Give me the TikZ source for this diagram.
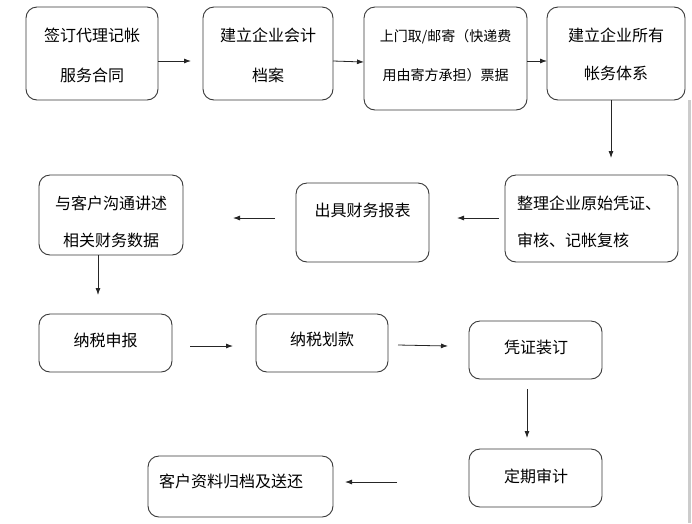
\documentclass[tikz,border=0pt]{standalone}
\usepackage{fontspec}
\setmainfont{Noto Sans CJK SC}
\usetikzlibrary{arrows.meta}
\tikzset{
  box/.style={draw=black!78, line width=0.9pt, rounded corners=11pt, inner sep=0pt, outer sep=0pt, anchor=north west},
  txt/.style={inner sep=0pt, font=\fontsize{16}{16}\selectfont},
  smalltxt/.style={inner sep=0pt, font=\fontsize{14}{14}\selectfont},
  arr/.style={draw=black!85, line width=0.8pt, -{Latex[length=7pt,width=5pt]}}
}
\begin{document}
\begin{tikzpicture}[x=1pt,y=-1pt]
\useasboundingbox (0,0) rectangle (692,523);
\fill[white] (0,0) rectangle (692,523);
\fill[black!20] (688,100) rectangle (690.5,523);

% row 1
\node[box, minimum width=132pt, minimum height=93pt] (b1) at (26,7) {};
\node[txt] (b1a) at (92,35) {签订代理记帐};
\node[txt] (b1b) at (92,75) {服务合同};

\node[box, minimum width=130pt, minimum height=93pt] (b2) at (203,7) {};
\node[txt] (b2a) at (268,35) {建立企业会计};
\node[txt] (b2b) at (268,75) {档案};

\node[box, minimum width=163pt, minimum height=103pt] (b3) at (364,7) {};
\node[smalltxt] (b3a) at (445.5,37) {上门取/邮寄（快递费};
\node[smalltxt] (b3b) at (445.5,75) {用由寄方承担）票据};

\node[box, minimum width=138pt, minimum height=93pt] (b4) at (547,7) {};
\node[txt] (b4a) at (616,35) {建立企业所有};
\node[txt] (b4b) at (616,73) {帐务体系};

% row 2
\node[box, minimum width=144pt, minimum height=80pt] (bA) at (39,175) {};
\node[txt] (bAa) at (111,203) {与客户沟通讲述};
\node[txt] (bAb) at (111,240) {相关财务数据};

\node[box, minimum width=133pt, minimum height=79pt] (bB) at (296,183) {};
\node[txt] (bBa) at (362.5,210) {出具财务报表};

\node[box, minimum width=173pt, minimum height=87pt] (bC) at (505,175) {};
\node[txt, anchor=west] (bCa) at (517,203) {整理企业原始凭证、};
\node[txt, anchor=west] (bCb) at (517,240) {审核、记帐复核};

% row 3
\node[box, minimum width=133pt, minimum height=58pt] (bD) at (39,314) {};
\node[txt] (bDa) at (105.5,340) {纳税申报};

\node[box, minimum width=132pt, minimum height=58pt] (bE) at (256,314) {};
\node[txt] (bEa) at (322,339) {纳税划款};

\node[box, minimum width=133pt, minimum height=58pt] (bF) at (469,321) {};
\node[txt] (bFa) at (536,347) {凭证装订};

% row 4
\node[box, minimum width=133pt, minimum height=58pt] (bG) at (469,449) {};
\node[txt] (bGa) at (536,476) {定期审计};

\node[box, minimum width=185pt, minimum height=61pt] (bH) at (148,456) {};
\node[txt, anchor=west] (bHa) at (159,481) {客户资料归档及送还};

% connector end points
\coordinate (p1s) at (158,61);  \coordinate (p1e) at (191,61);
\coordinate (p2s) at (333,61);  \coordinate (p2e) at (364,62);
\coordinate (p3s) at (527,61);  \coordinate (p3e) at (547,61);
\coordinate (p4s) at (611,100); \coordinate (p4e) at (611,158);
\coordinate (p5s) at (499,218); \coordinate (p5e) at (457,218);
\coordinate (p6s) at (275,218); \coordinate (p6e) at (233,218);
\coordinate (p7s) at (98,255);  \coordinate (p7e) at (98,295);
\coordinate (p8s) at (190,346); \coordinate (p8e) at (233,346);
\coordinate (p9s) at (398,345); \coordinate (p9e) at (448,346);
\coordinate (p10s) at (527,389); \coordinate (p10e) at (527,438);
\coordinate (p11s) at (397,482); \coordinate (p11e) at (345,482);

\draw[arr] (p1s) -- (p1e);
\draw[arr] (p2s) -- (p2e);
\draw[arr] (p3s) -- (p3e);
\draw[arr] (p4s) -- (p4e);
\draw[arr] (p5s) -- (p5e);
\draw[arr] (p6s) -- (p6e);
\draw[arr] (p7s) -- (p7e);
\draw[arr] (p8s) -- (p8e);
\draw[arr] (p9s) -- (p9e);
\draw[arr] (p10s) -- (p10e);
\draw[arr] (p11s) -- (p11e);
\end{tikzpicture}
\end{document}
